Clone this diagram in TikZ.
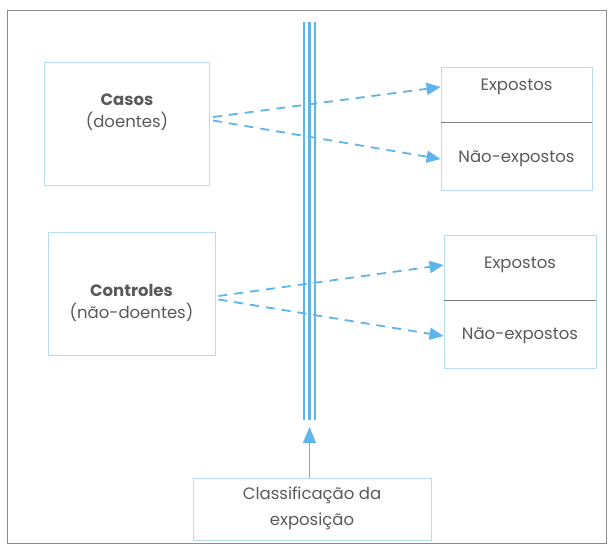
\documentclass[tikz,border=0pt]{standalone}
\usepackage{fontspec}
\setmainfont{Poppins}
\usetikzlibrary{arrows.meta,calc}
\definecolor{boxc}{HTML}{B5DDEF}
\definecolor{linec}{HTML}{5DB5EA}
\definecolor{txt}{HTML}{5A5A5A}
\definecolor{framec}{HTML}{8C8C8C}
\definecolor{divc}{HTML}{7F7F7F}
\tikzset{
  cell/.style={draw=boxc, line width=0.8pt, inner sep=0pt},
  lbl/.style={text=txt, font=\fontsize{16.5}{22}\selectfont, inner sep=0pt, align=center},
  dasharrow/.style={draw=linec, line width=1.8pt, dash pattern=on 9pt off 7pt,
    -{Triangle[length=14pt,width=12pt,fill=linec]}},
}
\begin{document}
\begin{tikzpicture}[x=1pt,y=-1pt]
\useasboundingbox (0,0) rectangle (613,550);
\fill[white] (0,0) rectangle (613,550);
% outer frame
\draw[framec, line width=1pt] (7,10) rectangle (606,543);

% left boxes
\node[cell, minimum width=165pt, minimum height=123pt] (casos) at (127,123.5) {};
\node[lbl] (casost) at (127,112) {\textbf{Casos}\\(doentes)};
\node[cell, minimum width=167pt, minimum height=123pt] (ctrl) at (131.5,293.5) {};
\node[lbl] (ctrlt) at (131.5,303) {\textbf{Controles}\\(não-doentes)};

% right boxes (top)
\node[cell, minimum width=151pt, minimum height=55pt] (e1) at (516.5,94.5) {};
\node[cell, minimum width=151pt, minimum height=68pt] (n1) at (516.5,156) {};
\draw[divc, line width=0.8pt] (e1.south west) -- (e1.south east);
\node[lbl] (e1t) at (516.5,87) {Expostos};
\node[lbl] (n1t) at (516.5,159) {Não-expostos};

% right boxes (bottom)
\node[cell, minimum width=152pt, minimum height=65pt] (e2) at (520,267.5) {};
\node[cell, minimum width=152pt, minimum height=68pt] (n2) at (520,334) {};
\draw[divc, line width=0.8pt] (e2.south west) -- (e2.south east);
\node[lbl] (e2t) at (520,265) {Expostos};
\node[lbl] (n2t) at (520,336) {Não-expostos};

% classification box
\node[cell, minimum width=238pt, minimum height=62pt] (cls) at (312,509) {};
\node[lbl, font=\fontsize{16.5}{26}\selectfont] (clst) at (312,508) {Classificação da\\exposição};

% triple vertical line
\coordinate (vt) at (309.5,22);
\coordinate (vb) at (309.5,420);
\draw[linec, line width=1.2pt] ([xshift=-5.5pt]vt) -- ([xshift=-5.5pt]vb);
\draw[linec, line width=2.8pt] (vt) -- (vb);
\draw[linec, line width=1.2pt] ([xshift=5.5pt]vt) -- ([xshift=5.5pt]vb);

% arrow from classification box
\coordinate (atip) at (309.5,427);
\draw[linec, line width=0.8pt, -{Triangle[length=16pt,width=13pt,fill=linec]}] (cls.north -| atip) -- (atip);

% dashed arrows
\draw[dasharrow] ($(casos.east)+(3,-6.5)$) -- (e1t.west -| e1.west);
\draw[dasharrow] ($(casos.east)+(3,-3)$) -- (n1t.west -| n1.west);
\draw[dasharrow] ($(ctrl.east)+(3,2.5)$) -- (e2t.west -| e2.west);
\draw[dasharrow] ($(ctrl.east)+(3,6)$) -- (n2t.west -| n2.west);
\end{tikzpicture}
\end{document}
